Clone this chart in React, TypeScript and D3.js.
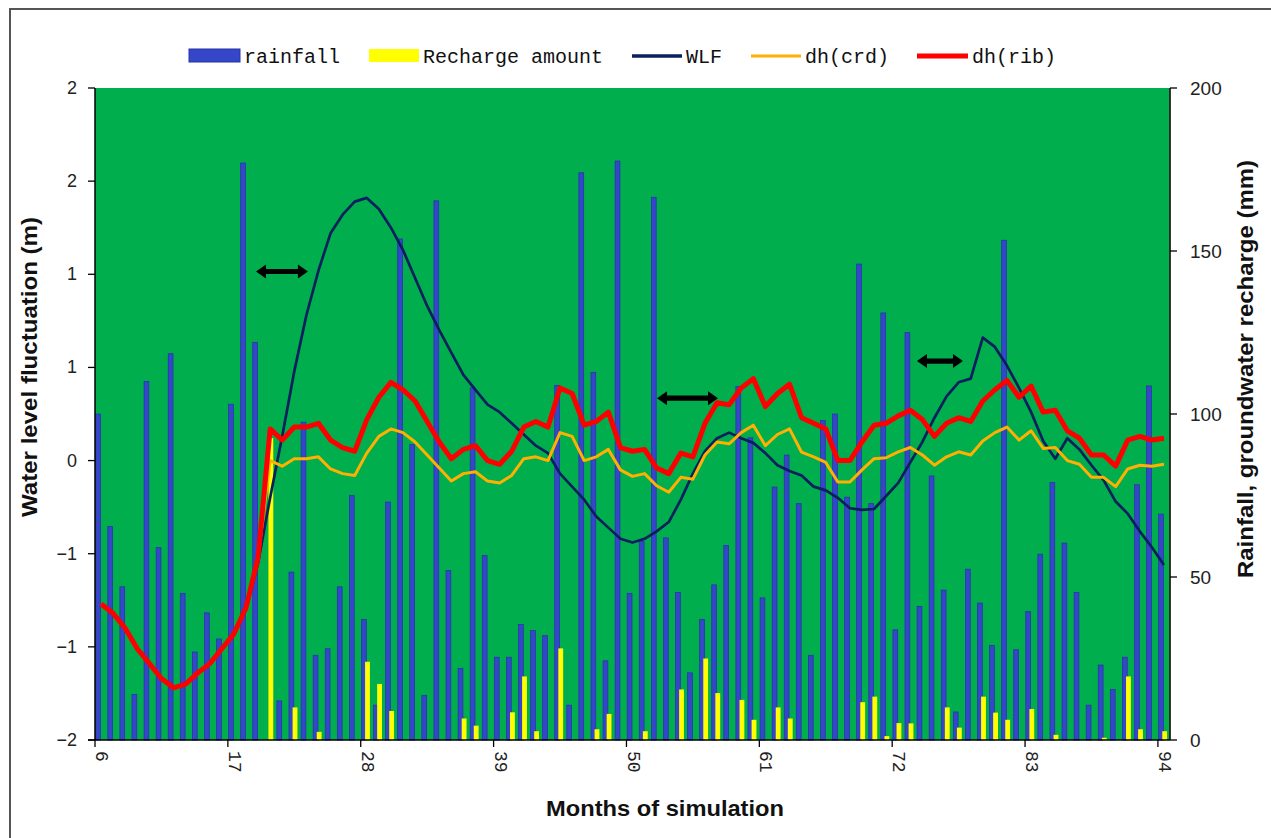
import React from "react";
import * as d3 from "d3";

// ---------- data ----------
const months: number[] = d3.range(6, 95); // months 6..94 (categories)

const rainfall: number[] = [
  100, 65.5, 47, 14, 110, 59, 118.5, 45, 27, 39,
  31, 103, 177, 122, 0, 12, 51.5, 97.5, 26, 28,
  47, 75, 37, 10.7, 73, 153.7, 90.6, 13.7, 165.4, 52,
  22, 108, 56.6, 25.4, 25.4, 35.4, 33.6, 32, 108.8, 10.7,
  174, 112.8, 24.3, 177.6, 45, 61, 166.5, 62, 45.3, 20.6,
  37, 47.6, 59.7, 108.4, 92.7, 43.6, 77.6, 87.4, 72.5, 26,
  98, 100, 74.5, 146, 72.5, 131, 33.8, 125, 41, 81,
  46, 8.6, 52.4, 42, 29, 153.3, 27.7, 39.4, 57, 79,
  60.4, 45.3, 10.7, 23, 15.5, 25.4, 78.3, 108.6, 69.3,
];

const recharge: number[] = [
  0, 0, 0, 0, 0, 0, 0, 0, 0, 0,
  0, 0, 0, 0, 92.6, 0, 10, 0, 2.5, 0,
  0, 0, 24, 17.2, 8.9, 0, 0, 0, 0, 0,
  6.6, 4.4, 0, 0, 8.5, 19.5, 2.7, 0, 28.1, 0,
  0, 3.3, 8, 0, 0, 2.7, 0, 0, 15.5, 0,
  25, 14.4, 0, 12.3, 6.2, 0, 10, 6.6, 0, 0,
  0, 0, 0, 11.6, 13.3, 1.2, 5.2, 5.1, 0, 0,
  10, 3.8, 0, 13.3, 8.4, 6.2, 0, 9.5, 0, 1.6,
  0, 0, 0, 0.7, 0, 19.5, 3.3, 0, 2.7,
];

const wlf: number[] = [
  -0.77, -0.82, -0.9, -1.01, -1.09, -1.17, -1.22, -1.2, -1.14, -1.09,
  -1.01, -0.93, -0.8, -0.55, -0.2, 0.13, 0.48, 0.78, 1.02, 1.22,
  1.32, 1.39, 1.41, 1.35, 1.25, 1.13, 0.98, 0.83, 0.7, 0.58,
  0.46, 0.38, 0.3, 0.26, 0.2, 0.14, 0.08, 0.04, -0.07, -0.14,
  -0.21, -0.3, -0.36, -0.42, -0.44, -0.42, -0.38, -0.33, -0.21, -0.07,
  0.05, 0.12, 0.15, 0.12, 0.095, 0.04, -0.025, -0.056, -0.08, -0.14,
  -0.16, -0.2, -0.256, -0.265, -0.26, -0.19, -0.12, -0.01, 0.1, 0.23,
  0.345, 0.42, 0.44, 0.66, 0.61, 0.51, 0.39, 0.26, 0.105, 0.01,
  0.12, 0.06, -0.025, -0.105, -0.22, -0.285, -0.38, -0.465, -0.56,
];

const dhCrd: number[] = [
  -0.77, -0.82, -0.9, -1.01, -1.09, -1.17, -1.22, -1.2, -1.14, -1.09,
  -1.01, -0.93, -0.79, -0.52, 0.0, -0.03, 0.01, 0.01, 0.02, -0.045,
  -0.07, -0.08, 0.04, 0.13, 0.17, 0.15, 0.1, 0.03, -0.04, -0.11,
  -0.07, -0.06, -0.11, -0.12, -0.08, 0.01, 0.02, 0.0, 0.15, 0.13,
  0.0, 0.02, 0.06, -0.05, -0.085, -0.07, -0.135, -0.17, -0.09, -0.1,
  0.03, 0.1, 0.09, 0.15, 0.19, 0.08, 0.14, 0.17, 0.045, 0.02,
  -0.01, -0.115, -0.115, -0.05, 0.01, 0.015, 0.047, 0.07, 0.03, -0.025,
  0.02, 0.047, 0.03, 0.105, 0.15, 0.18, 0.11, 0.16, 0.065, 0.07,
  0.0, -0.02, -0.09, -0.09, -0.14, -0.045, -0.025, -0.03, -0.02,
];

const dhRib: number[] = [
  -0.77, -0.82, -0.9, -1.01, -1.09, -1.17, -1.22, -1.2, -1.14, -1.09,
  -1.01, -0.93, -0.79, -0.52, 0.17, 0.11, 0.18, 0.18, 0.2, 0.11,
  0.07, 0.05, 0.22, 0.34, 0.42, 0.38, 0.32, 0.21, 0.1, 0.01,
  0.06, 0.08, 0.0, -0.02, 0.05, 0.18, 0.21, 0.18, 0.39, 0.36,
  0.19, 0.21, 0.26, 0.07, 0.05, 0.06, -0.04, -0.07, 0.04, 0.02,
  0.2, 0.31, 0.3, 0.39, 0.44, 0.29, 0.36, 0.41, 0.23, 0.2,
  0.17, 0.0, 0.0, 0.1, 0.19, 0.2, 0.24, 0.27, 0.22, 0.13,
  0.2, 0.23, 0.21, 0.32, 0.38, 0.43, 0.34, 0.4, 0.26, 0.27,
  0.16, 0.12, 0.03, 0.03, -0.03, 0.11, 0.13, 0.11, 0.12,
];

const leftTicks: number[] = [-1.5, -1, -0.5, 0, 0.5, 1, 1.5, 2];
const leftTickLabels: string[] = ["\u22122", "\u22121", "\u22121", "0", "1", "1", "2", "2"];
const rightTicks: number[] = [0, 50, 100, 150, 200];
const xTickMonths: number[] = [6, 17, 28, 39, 50, 61, 72, 83, 94];

// annotation arrows: [startMonth, endMonth, level]
const arrowStart: number[] = [19.33, 52.53, 74.05];
const arrowEnd: number[] = [23.63, 57.58, 77.86];
const arrowLevel: number[] = [1.015, 0.335, 0.534];

const legendLabels: string[] = ["rainfall", "Recharge amount", "WLF", "dh(crd)", "dh(rib)"];

// ---------- styles ----------
const C = {
  green: "#00AE4E",
  blue: "#3646C8",
  blueEdge: "#2433A6",
  yellow: "#FFFF00",
  navy: "#0A1F5C",
  orange: "#FFB000",
  red: "#FF0000",
};
const SANS = "'Liberation Sans', Arial, sans-serif";
const MONO = "'Liberation Mono', 'DejaVu Sans Mono', monospace";

export default function App() {
  const L = 95, R = 1170, T = 88, B = 740;
  const x = d3.scaleBand<number>().domain(months).range([L, R]).padding(0);
  const bw = x.bandwidth();
  const xm = d3.scaleLinear().domain([6, 95]).range([L, R]);
  const yL = d3.scaleLinear().domain([-1.5, 2]).range([B, T]);
  const yR = d3.scaleLinear().domain([0, 200]).range([B, T]);
  const cx = (i: number) => (x(months[i]) as number) + bw / 2;
  const mkLine = (vals: number[]) =>
    d3.line<number>().x((_, i) => cx(i)).y((v) => yL(v))(vals) || "";

  const barW = bw * 0.4;

  const arrowPath = (x1: number, x2: number, y: number) => {
    const hl = 10, hh = 7, sh = 2.6;
    return [
      `M${x1},${y}`,
      `L${x1 + hl},${y - hh}`,
      `L${x1 + hl},${y - sh}`,
      `L${x2 - hl},${y - sh}`,
      `L${x2 - hl},${y - hh}`,
      `L${x2},${y}`,
      `L${x2 - hl},${y + hh}`,
      `L${x2 - hl},${y + sh}`,
      `L${x1 + hl},${y + sh}`,
      `L${x1 + hl},${y + hh}`,
      "Z",
    ].join(" ");
  };

  return (
    <svg
      width={1271}
      height={838}
      style={{ position: "absolute", left: 0, top: 0, background: "#fff" }}
    >
      {/* chart area border */}
      <rect x={10} y={9} width={1400} height={1000} fill="#fff" stroke="#555" strokeWidth={2} />

      {/* plot background */}
      <rect x={L} y={T} width={R - L} height={B - T} fill={C.green} />

      {/* bars */}
      {months.map((m, i) => (
        <rect
          key={"r" + m}
          x={(x(m) as number) + bw * 0.06}
          y={yR(rainfall[i])}
          width={barW}
          height={yR(0) - yR(rainfall[i])}
          fill={C.blue}
          stroke={C.blueEdge}
          strokeWidth={0.7}
        />
      ))}
      {months.map((m, i) =>
        recharge[i] > 0 ? (
          <rect
            key={"c" + m}
            x={(x(m) as number) + bw * 0.36}
            y={yR(recharge[i])}
            width={barW}
            height={yR(0) - yR(recharge[i])}
            fill={C.yellow}
          />
        ) : null
      )}

      {/* lines */}
      <path d={mkLine(wlf)} fill="none" stroke={C.navy} strokeWidth={2.7} strokeLinejoin="round" />
      <path d={mkLine(dhCrd)} fill="none" stroke={C.orange} strokeWidth={3} strokeLinejoin="round" />
      <path d={mkLine(dhRib)} fill="none" stroke={C.red} strokeWidth={5} strokeLinejoin="round" />

      {/* arrows */}
      {arrowStart.map((s, i) => (
        <path key={"a" + i} d={arrowPath(xm(s), xm(arrowEnd[i]), yL(arrowLevel[i]))} fill="#000" />
      ))}

      {/* axes lines */}
      <line x1={L} x2={L} y1={T} y2={B} stroke="#000" strokeWidth={1.5} />
      <line x1={R} x2={R} y1={T} y2={B} stroke="#222" strokeWidth={1.8} />
      <line x1={L - 7} x2={R} y1={B} y2={B} stroke="#000" strokeWidth={1.5} />

      {/* left ticks */}
      {leftTicks.map((v, i) => (
        <g key={"lt" + i}>
          <line x1={L - 7} x2={L} y1={yL(v)} y2={yL(v)} stroke="#000" strokeWidth={1.3} />
          <text
            x={77}
            y={yL(v)}
            textAnchor="end"
            dominantBaseline="central"
            fontFamily={SANS}
            fontSize={18}
            fill="#222"
          >
            {leftTickLabels[i]}
          </text>
        </g>
      ))}

      {/* right ticks */}
      {rightTicks.map((v) => (
        <g key={"rt" + v}>
          <line x1={R} x2={R + 7} y1={yR(v)} y2={yR(v)} stroke="#000" strokeWidth={1.3} />
          <text
            x={1190}
            y={yR(v)}
            textAnchor="start"
            dominantBaseline="central"
            fontFamily={SANS}
            fontSize={19}
            fill="#222"
          >
            {v}
          </text>
        </g>
      ))}

      {/* bottom ticks */}
      {xTickMonths.map((m) => {
        const tx = x(m) as number;
        return (
          <g key={"xt" + m}>
            <line x1={tx} x2={tx} y1={B} y2={B + 7} stroke="#000" strokeWidth={1.3} />
            <text
              transform={`translate(${tx + bw / 2},${B + 11}) rotate(90)`}
              textAnchor="start"
              dominantBaseline="central"
              fontFamily={MONO}
              fontSize={18}
              fill="#222"
            >
              {m}
            </text>
          </g>
        );
      })}

      {/* axis titles */}
      <text
        transform="translate(37,367) rotate(-90)"
        textAnchor="middle"
        fontFamily={SANS}
        fontWeight="bold"
        fontSize={22}
        textLength={300}
        lengthAdjust="spacingAndGlyphs"
        fill="#111"
      >
        Water level fluctuation (m)
      </text>
      <text
        transform="translate(1253,369) rotate(-90)"
        textAnchor="middle"
        fontFamily={SANS}
        fontWeight="bold"
        fontSize={22}
        textLength={418}
        lengthAdjust="spacingAndGlyphs"
        fill="#111"
      >
        Rainfall, groundwater recharge (mm)
      </text>
      <text
        x={665}
        y={816}
        textAnchor="middle"
        fontFamily={SANS}
        fontWeight="bold"
        fontSize={22}
        textLength={238}
        lengthAdjust="spacingAndGlyphs"
        fill="#111"
      >
        Months of simulation
      </text>

      {/* legend */}
      <g fontFamily={MONO} fontSize={20} fill="#111">
        <rect x={189} y={49} width={51} height={13} fill={C.blue} stroke={C.blueEdge} strokeWidth={1} />
        <text x={244} y={63}>{legendLabels[0]}</text>
        <rect x={369} y={49} width={50} height={13} fill={C.yellow} />
        <text x={423} y={63}>{legendLabels[1]}</text>
        <line x1={632} x2={682} y1={56} y2={56} stroke={C.navy} strokeWidth={3.5} />
        <text x={686} y={63}>{legendLabels[2]}</text>
        <line x1={751} x2={801} y1={56} y2={56} stroke={C.orange} strokeWidth={3} />
        <text x={805} y={63}>{legendLabels[3]}</text>
        <line x1={917} x2={968} y1={56} y2={56} stroke={C.red} strokeWidth={5} />
        <text x={972} y={63}>{legendLabels[4]}</text>
      </g>
    </svg>
  );
}
